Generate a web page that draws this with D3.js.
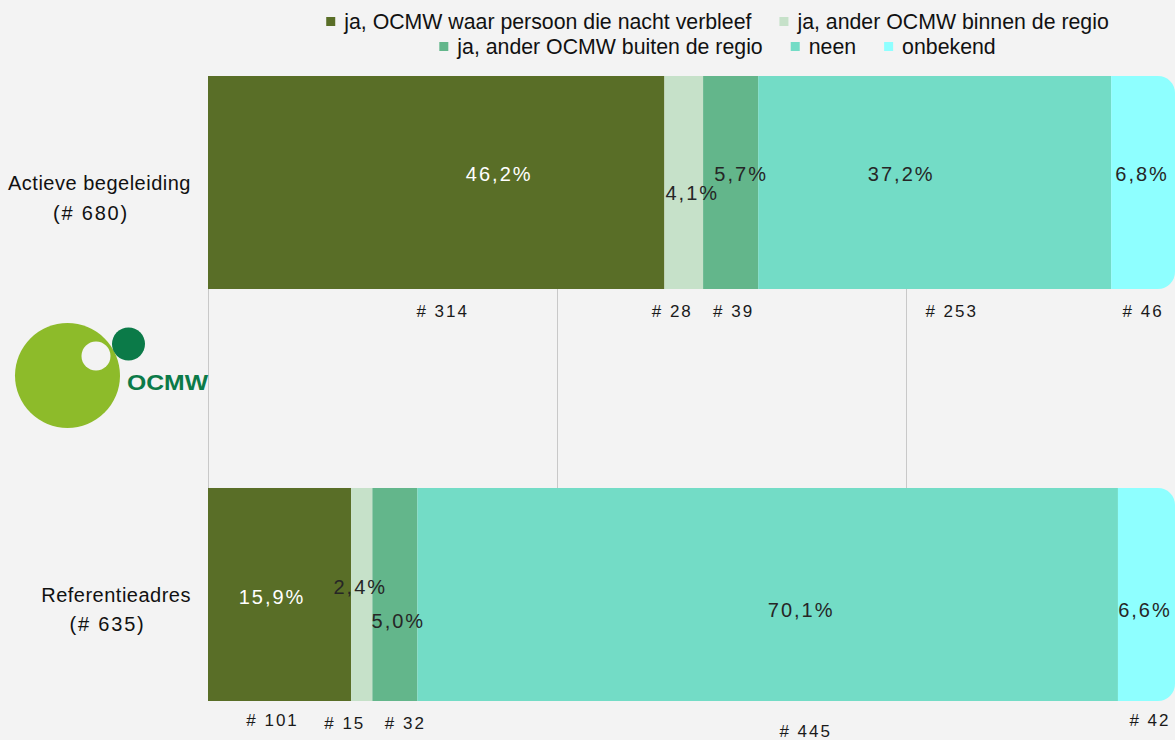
<!DOCTYPE html>
<html><head><meta charset="utf-8">
<script src="https://cdn.jsdelivr.net/npm/d3@7"></script>
<style>
html,body{margin:0;padding:0;background:#f3f3f3;}
svg{display:block;}
text{font-family:"Liberation Sans",Arial,sans-serif;}
</style></head>
<body>
<svg id="chart" width="1175" height="740"></svg>
<script>
// ---- data ----
const categories = ["Actieve begeleiding", "Referentieadres"];
const categoryCounts = ["(# 680)", "(# 635)"];
const seriesNames = ["ja, OCMW waar persoon die nacht verbleef", "ja, ander OCMW binnen de regio",
  "ja, ander OCMW buiten de regio", "neen", "onbekend"];
const seriesColors = ["#596e27", "#c6e1c9", "#63b68b", "#73dcc6", "#8effff"];
// segment shares (% of bar length, as drawn)
const actieveShares = [47.2, 4.0, 5.7, 36.5, 6.6];
const referentieShares = [14.8, 2.2, 4.65, 72.45, 5.9];
// percentage labels
const actievePct = ["46,2%", "4,1%", "5,7%", "37,2%", "6,8%"];
const referentiePct = ["15,9%", "2,4%", "5,0%", "70,1%", "6,6%"];
// counts
const actieveCounts = [314, 28, 39, 253, 46];
const referentieCounts = [101, 15, 32, 445, 42];
const gridTicks = [0, 36.1, 72.2];

// ---- layout ----
const svg = d3.select("#chart");
const W = 1175, H = 740;
svg.append("rect").attr("width", W).attr("height", H).attr("fill", "#f3f3f3");

const x = d3.scaleLinear().domain([0, 100]).range([208, 1175]);
const y = d3.scaleBand().domain(categories).range([76, 701]).paddingInner(0.483).paddingOuter(0);

// gridlines
svg.append("g").selectAll("line").data(gridTicks).join("line")
  .attr("x1", d => Math.round(x(d)) + 0.5).attr("x2", d => Math.round(x(d)) + 0.5)
  .attr("y1", 76).attr("y2", 701)
  .attr("stroke", "#c8c8c8").attr("stroke-width", 1);

const rows = [
  {cat: categories[0], count: categoryCounts[0], shares: actieveShares, pct: actievePct, n: actieveCounts,
   pdx: [63, 8.5, 10.5, -33.5, -1], pdy: [-8.5, 10.5, -8.5, -8.5, -8.5],
   cdx: [6.5, -11.5, 3, 17, 0], cdy: [22, 22, 22, 22, 22]},
  {cat: categories[1], count: categoryCounts[1], shares: referentieShares, pct: referentiePct, n: referentieCounts,
   pdx: [-7.5, -1.5, 3.5, 33.5, -1.5], pdy: [2.5, -7.5, 26.5, 15.5, 15.5],
   cdx: [-7, -17, 10.5, 38, 3.5], cdy: [19, 22, 22, 30, 19]}
];

const R = 17;
rows.forEach(row => {
  const y0 = y(row.cat), bh = y.bandwidth(), yc = y0 + bh / 2;
  let acc = 0;
  const segs = row.shares.map((s, i) => { const o = {i, a: acc, b: acc + s}; acc += s; return o; });
  const g = svg.append("g");
  segs.forEach(sg => {
    const xa = x(sg.a), xb = x(sg.b);
    if (sg.i === segs.length - 1) {
      const p = d3.path();
      p.moveTo(xa, y0);
      p.lineTo(xb - R, y0);
      p.arcTo(xb, y0, xb, y0 + R, R);
      p.lineTo(xb, y0 + bh - R);
      p.arcTo(xb, y0 + bh, xb - R, y0 + bh, R);
      p.lineTo(xa, y0 + bh);
      p.closePath();
      g.append("path").attr("d", p.toString()).attr("fill", seriesColors[sg.i]);
    } else {
      g.append("rect").attr("x", xa).attr("y", y0).attr("width", xb - xa).attr("height", bh)
        .attr("fill", seriesColors[sg.i]);
    }
  });
  // percentage labels
  segs.forEach(sg => {
    const cx = (x(sg.a) + x(sg.b)) / 2 + row.pdx[sg.i];
    g.append("text").attr("x", cx).attr("y", yc + row.pdy[sg.i])
      .attr("text-anchor", "middle").attr("dominant-baseline", "central")
      .attr("font-size", 20).attr("letter-spacing", 2)
      .attr("fill", sg.i === 0 ? "#ffffff" : "#262626")
      .text(row.pct[sg.i]);
  });
  // count labels
  segs.forEach(sg => {
    const cx = (x(sg.a) + x(sg.b)) / 2 + row.cdx[sg.i];
    g.append("text").attr("x", cx).attr("y", y0 + bh + row.cdy[sg.i])
      .attr("text-anchor", "middle").attr("dominant-baseline", "central")
      .attr("font-size", 17).attr("letter-spacing", 2).attr("fill", "#1a1a1a")
      .text("# " + row.n[sg.i]);
  });
  // category labels (right-aligned block, lines centred)
  const t1 = svg.append("text").attr("x", 191).attr("y", yc + 7.5).attr("text-anchor", "end")
    .attr("font-size", 20).attr("letter-spacing", 0.5).attr("fill", "#111").text(row.cat);
  const w1 = t1.node().getComputedTextLength();
  svg.append("text").attr("x", 191 - w1 / 2 - 8.5).attr("y", yc + 37).attr("text-anchor", "middle")
    .attr("font-size", 20).attr("letter-spacing", 1.8).attr("fill", "#111").text(row.count);
});

// legend
const legendRows = [[0, 1], [2, 3, 4]];
const legendBase = [29, 54];
const legendCenter = 717.5;
legendRows.forEach((items, r) => {
  const lg = svg.append("g");
  let cx = 0;
  const entries = items.map(i => {
    const t = lg.append("text").attr("font-size", 21.3).attr("fill", "#111")
      .attr("y", legendBase[r]).text(seriesNames[i]);
    const w = t.node().getComputedTextLength();
    const e = {i, t, x: cx};
    cx += 18 + w + 28;
    return e;
  });
  const total = cx - 28;
  const start = legendCenter - total / 2;
  entries.forEach(e => {
    lg.append("rect").attr("x", start + e.x).attr("y", legendBase[r] - 12).attr("width", 9).attr("height", 9)
      .attr("fill", seriesColors[e.i]);
    e.t.attr("x", start + e.x + 18);
  });
});

// OCMW logo
const logo = svg.append("g");
logo.append("circle").attr("cx", 67.5).attr("cy", 375.5).attr("r", 52.5).attr("fill", "#8dbb2a");
logo.append("circle").attr("cx", 96).attr("cy", 356).attr("r", 14.5).attr("fill", "#f3f3f3");
logo.append("circle").attr("cx", 128.5).attr("cy", 344).attr("r", 16.5).attr("fill", "#0b7a48");
logo.append("text").attr("x", 127).attr("y", 390).attr("font-size", 22).attr("font-weight", "bold")
  .attr("fill", "#0b7a48").attr("textLength", 81).attr("lengthAdjust", "spacingAndGlyphs").text("OCMW");
</script>
</body></html>
